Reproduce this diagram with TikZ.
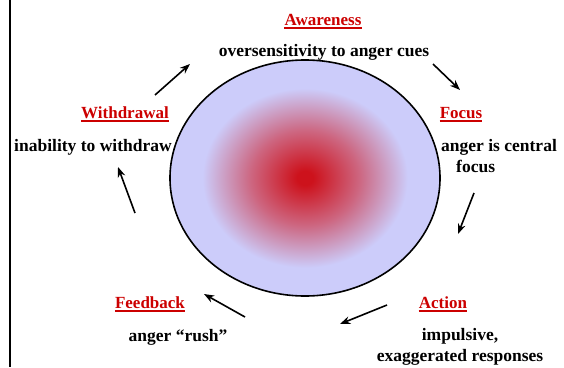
\documentclass[tikz,border=0pt]{standalone}
\usepackage{fontspec}
\setmainfont{Liberation Serif}
\usetikzlibrary{arrows.meta,positioning,shapes.geometric}
\colorlet{stagered}{red!80!black}
\definecolor{lavender}{RGB}{204,204,250}
\definecolor{coreRed}{RGB}{205,18,28}
\pgfdeclareradialshading{angerglow}{\pgfpoint{0bp}{0bp}}{%
  color(0bp)=(coreRed); color(1.5bp)=(coreRed);
  color(10bp)=(coreRed!55!lavender); color(19bp)=(lavender);
  color(25bp)=(lavender); color(50bp)=(lavender)}
\begin{document}
\begin{tikzpicture}[x=1pt,y=-1pt,>=Stealth,
  stage/.style={text=stagered,font=\fontsize{17}{20}\selectfont\bfseries,inner sep=0pt,text depth=0pt,anchor=base},
  note/.style={font=\fontsize{17.5}{21}\selectfont\bfseries,inner sep=0pt},
  uline/.style={stagered,line width=1.5pt},
  cyc/.style={->,line width=1.6pt}]
\useasboundingbox (0,0) rectangle (564,367);
\draw[line width=1.8pt] (10,0) -- (10,367);
% the core
\node[ellipse,draw,line width=1.6pt,shading=angerglow,minimum width=270pt,minimum height=236pt] (core) at (305,178) {};
% stages and their notes
\node[stage] (aware) at (323,25.5) {Awareness};
\node[note,anchor=base] (awarenote) at (324,56.5) {oversensitivity to anger cues};
\node[stage] (focus) at (461,118.5) {Focus};
\node[note,anchor=west,align=left] (focusnote) at (441,156.5) {anger is central\\\hspace*{15pt}focus};
\node[stage] (action) at (443,308.5) {Action};
\node[note,align=center] (actionnote) at (460,347) {impulsive,\\exaggerated responses};
\node[stage] (feed) at (150,308.5) {Feedback};
\node[note,anchor=base] (feednote) at (178,341) {anger “rush”};
\node[stage] (withdraw) at (125,118.5) {Withdrawal};
\node[note,anchor=base] (withdrawnote) at (93,151) {inability to withdraw};
% underlines
\foreach \s in {aware,focus,action,feed,withdraw}
  \draw[uline] ([yshift=-2.5pt]\s.south west) -- ([yshift=-2.5pt]\s.south east);
% arrows round the cycle
\coordinate (a1) at (155,95);  \coordinate (b1) at (190,64);
\coordinate (a2) at (433,64);  \coordinate (b2) at (460,90);
\coordinate (a3) at (474,193); \coordinate (b3) at (458,234);
\coordinate (a4) at (387,305); \coordinate (b4) at (340,324);
\coordinate (a5) at (245,317); \coordinate (b5) at (204,294);
\coordinate (a6) at (135,213); \coordinate (b6) at (118,167);
\foreach \i in {1,...,6}
  \draw[cyc] (a\i) -- (b\i);
\end{tikzpicture}
\end{document}
